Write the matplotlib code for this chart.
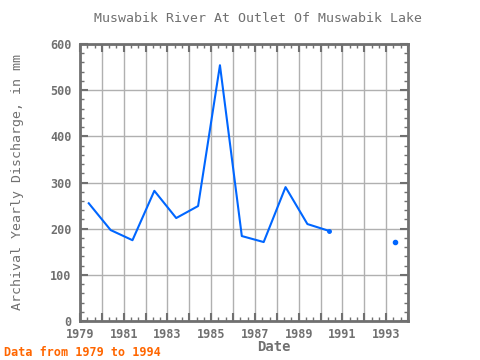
import matplotlib
matplotlib.use("Agg")
import matplotlib.pyplot as plt
from matplotlib.ticker import MultipleLocator

years = [1979, 1980, 1981, 1982, 1983, 1984, 1985, 1986, 1987, 1988, 1989, 1990, 1991, 1992, 1993]
discharge = [255, 197, 175, 282, 223, 249, 554, 184, 171, 290, 210, 195, None, None, 172]
offset = 0.4
xticks = [1979, 1981, 1983, 1985, 1987, 1989, 1991, 1993]
yticks = [0, 100, 200, 300, 400, 500, 600]

gray = "#707070"
fig = plt.figure(figsize=(4.8, 3.6), dpi=100)
ax = fig.add_axes([80/480, 39/360, 328/480, 277/360])

xs = [y + offset for y in years]
vals = [float('nan') if v is None else v for v in discharge]
ax.plot(xs, vals, color="#0066ff", lw=1.5, zorder=3)
iso = [i for i in range(len(xs)) if discharge[i] is not None and
       (i == 0 or discharge[i-1] is None) and (i == len(xs)-1 or discharge[i+1] is None)]
ax.plot([xs[i] for i in iso], [discharge[i] for i in iso], 'o', color="#0066ff", ms=3, zorder=3)
ax.plot([xs[11]], [discharge[11]], 'o', color="#0066ff", ms=2.5, zorder=3)

ax.set_xlim(1979, 1994)
ax.set_ylim(0, 600)
ax.set_yticks(yticks)
ax.xaxis.set_minor_locator(MultipleLocator(1/3))
ax.yaxis.set_minor_locator(MultipleLocator(20))
ax.set_xticks(list(range(1979, 1995)))
ax.set_xticklabels([str(y) if y in xticks else "" for y in range(1979, 1995)])
ax.grid(True, which="major", color="#b0b0b0", lw=1)
ax.tick_params(which="both", direction="in", top=True, right=True, colors=gray,
               labelsize=8.5)
ax.tick_params(which="major", length=6, width=1.5)
ax.tick_params(which="minor", length=3, width=1)
ax.tick_params(axis="y", pad=6)
ax.tick_params(axis="x", pad=5)
for t in ax.get_xticklabels() + ax.get_yticklabels():
    t.set_family("DejaVu Sans Mono")
    t.set_color(gray)
    t.set_fontweight("bold")
for s in ax.spines.values():
    s.set_color(gray)
    s.set_linewidth(2)

fig.text(258/480, 1 - 18/360, "Muswabik River At Outlet Of Muswabik Lake",
         ha="center", va="center", family="DejaVu Sans Mono", color=gray, fontsize=9.5)
fig.text(18/480, 1 - 182/360, "Archival Yearly Discharge, in mm", rotation=90,
         ha="center", va="center", family="DejaVu Sans Mono", color=gray, fontsize=9.5)
fig.text(274/480, 1 - 347/360, "Date", ha="center", va="center",
         family="DejaVu Sans Mono", color=gray, fontsize=10, fontweight="bold")
fig.text(4/480, 1 - 352/360, "Data from 1979 to 1994", ha="left", va="center",
         family="DejaVu Sans Mono", color="#ff6600", fontsize=8.5, fontweight="bold")

fig.savefig("out.png", dpi=100)
